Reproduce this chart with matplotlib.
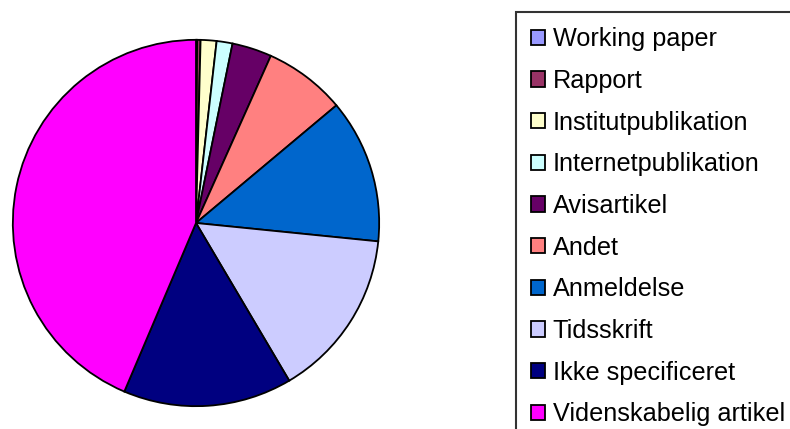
import matplotlib
matplotlib.use("Agg")
import matplotlib.pyplot as plt

plt.rcParams['font.family'] = ['Liberation Sans', 'DejaVu Sans']

# categories, clockwise from 12 o'clock
labels = ['Working paper', 'Rapport', 'Institutpublikation', 'Internetpublikation',
          'Avisartikel', 'Andet', 'Anmeldelse', 'Tidsskrift',
          'Ikke specificeret', 'Videnskabelig artikel']
shares = [0.1, 0.3, 1.4, 1.4, 3.5, 7.2, 12.7, 14.9, 14.9, 43.6]
colors = ['#9999FF', '#993366', '#FFFFCC', '#CCFFFF', '#660066',
          '#FF8080', '#0066CC', '#CCCCFF', '#000080', '#FF00FF']

W, H = 790, 429
fig = plt.figure(figsize=(W / 100, H / 100), dpi=100)

# pie centre and radius in pixels
cx, cy, r = 196, 223, 185
ax = fig.add_axes([(cx - r) / W, (H - cy - r) / H, 2 * r / W, 2 * r / H])
wedges, _ = ax.pie(shares, colors=colors, startangle=90, counterclock=False,
                   wedgeprops=dict(edgecolor='black', linewidth=1.3))
ax.set_xlim(-1.01, 1.01)
ax.set_ylim(-1.01, 1.01)
ax.set_aspect('equal')
ax.axis('off')

leg = fig.legend(wedges, labels, loc='upper left',
                 bbox_to_anchor=(516 / W, 1 - 12 / H), borderaxespad=0,
                 fontsize=18.2, frameon=True, fancybox=False, shadow=False,
                 handlelength=0.55, handleheight=0.55, handletextpad=0.3,
                 labelspacing=0.7, borderpad=0.6)
leg.get_frame().set_edgecolor('black')
leg.get_frame().set_linewidth(1.5)
for h in leg.legend_handles:
    h.set_edgecolor('black')
    h.set_linewidth(1.3)

fig.savefig('out.png', dpi=100)
